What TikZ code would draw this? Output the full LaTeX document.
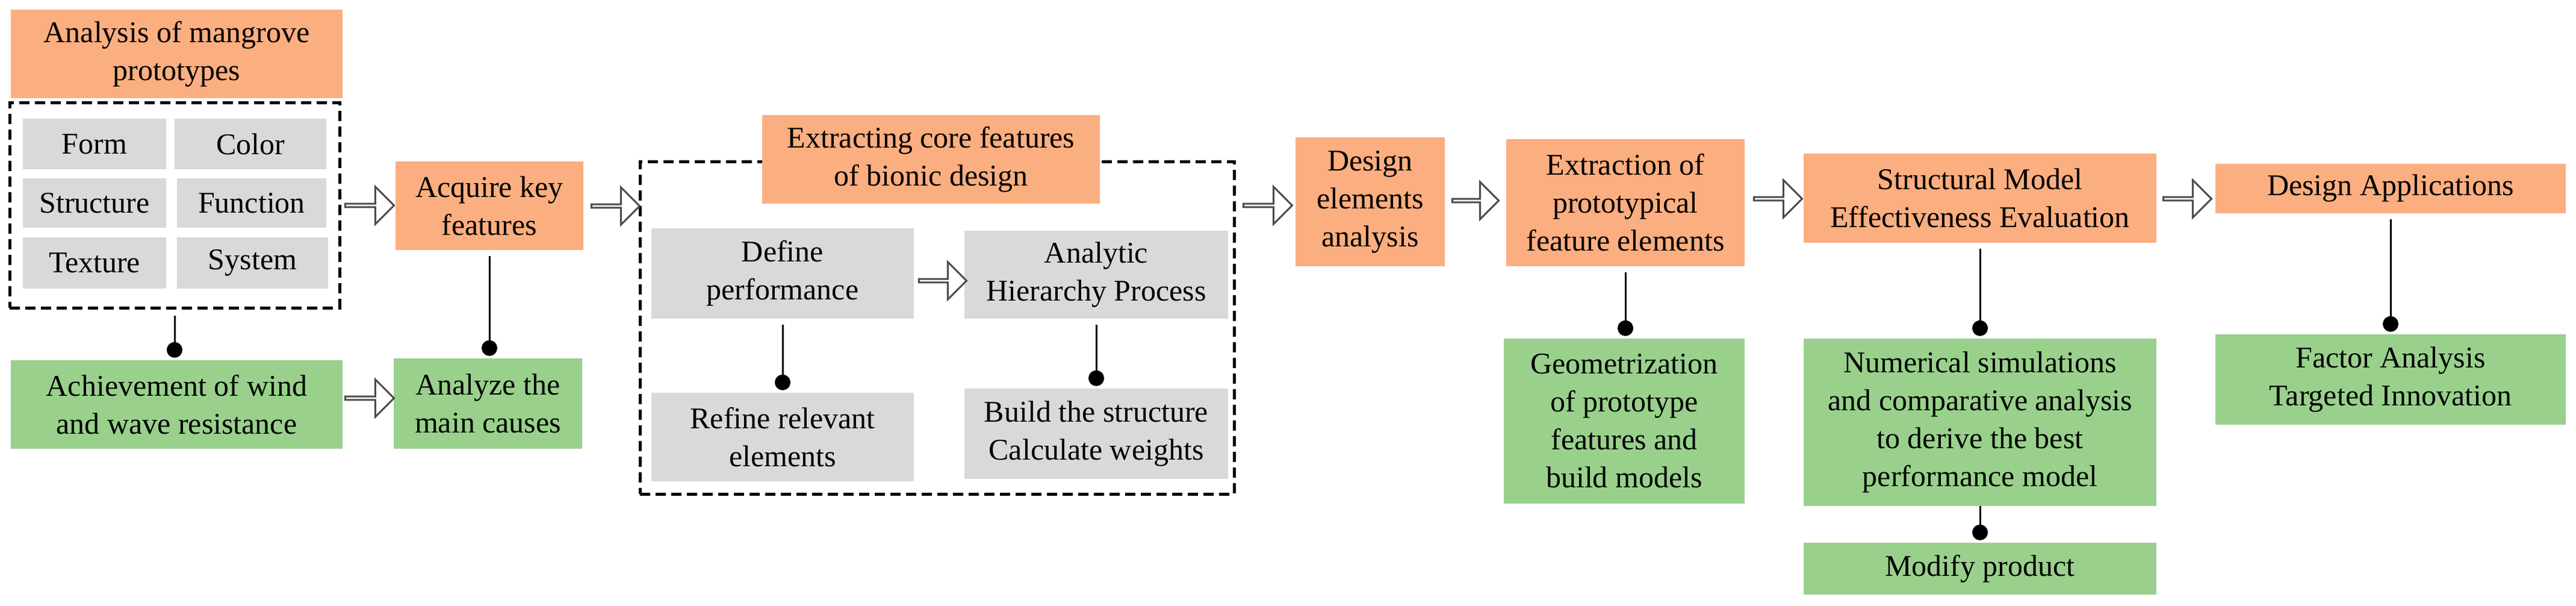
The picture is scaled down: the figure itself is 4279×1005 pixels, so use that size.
\documentclass[tikz,border=0pt]{standalone}
\usepackage{fontspec}
\setmainfont{Liberation Serif}
\usetikzlibrary{shapes.arrows,arrows.meta}
\definecolor{org}{HTML}{FBAE80}
\definecolor{grn}{HTML}{99D18C}
\definecolor{gry}{HTML}{D9D9D9}
\newcommand\bx[7]{\node[#2, minimum width={#5-#3}, minimum height={#6-#4}] (#1) at ({(#3+#5)/2},{-(#4+#6)/2}) {#7};}
\newcommand\har[4]{\node[harrow, minimum height={#3-#2}] (#1) at ({(#2+#3)/2},{-#4}) {};}
\begin{document}
\begin{tikzpicture}[x=1pt,y=1pt,
  every node/.style={font=\fontsize{50}{63}\selectfont, align=center, inner sep=0pt},
  ob/.style={fill=org},
  gb/.style={fill=grn},
  yb/.style={fill=gry},
  db/.style={draw=black, line width=5pt, dash pattern=on 17pt off 9pt},
  harrow/.style={single arrow, draw=black!70, line width=3pt, fill=white, minimum width=62pt, single arrow head extend=15pt, single arrow head indent=0pt},
  con/.style={line width=3pt, -{Circle[length=26pt,width=26pt]}, shorten <=10pt, shorten >=4pt}]
\useasboundingbox (0,0) rectangle (4279,-1005);
\bx{A1}{ob}{18}{16}{569}{163}{Analysis of mangrove\\prototypes}
\bx{D1}{db}{16}{170}{564}{511}{}
\bx{form}{yb}{38}{197}{276}{281}{Form}
\bx{color}{yb}{290}{197}{542}{281}{Color}
\bx{struct}{yb}{38}{296}{276}{378}{Structure}
\bx{func}{yb}{294}{296}{542}{378}{Function}
\bx{text}{yb}{38}{394}{276}{479}{Texture}
\bx{sys}{yb}{294}{394}{545}{479}{System}
\bx{ach}{gb}{18}{598}{569}{745}{Achievement of wind\\and wave resistance}
\bx{acq}{ob}{657}{268}{969}{415}{Acquire key\\features}
\bx{anz}{gb}{654}{595}{967}{745}{Analyze the\\main causes}
\bx{D2}{db}{1063}{268}{2050}{820}{}
\bx{ext}{ob}{1266}{191}{1827}{338}{Extracting core features\\of bionic design}
\bx{def}{yb}{1082}{379}{1518}{529}{Define\\performance}
\bx{ahp}{yb}{1602}{383}{2040}{529}{Analytic\\Hierarchy Process}
\bx{ref}{yb}{1082}{652}{1518}{799}{Refine relevant\\elements}
\bx{bld}{yb}{1602}{645}{2040}{795}{Build the structure\\Calculate weights}
\bx{dea}{ob}{2152}{228}{2400}{442}{Design\\elements\\analysis}
\bx{epf}{ob}{2502}{231}{2898}{442}{Extraction of\\prototypical\\feature elements}
\bx{geo}{gb}{2498}{562}{2898}{836}{Geometrization\\of prototype\\features and\\build models}
\bx{sme}{ob}{2996}{255}{3582}{403}{Structural Model\\Effectiveness Evaluation}
\bx{num}{gb}{2996}{562}{3582}{840}{Numerical simulations\\and comparative analysis\\to derive the best\\performance model}
\bx{mod}{gb}{2996}{901}{3582}{987}{Modify product}
\bx{da}{ob}{3680}{272}{4262}{354}{Design Applications}
\bx{fa}{gb}{3680}{555}{4262}{705}{Factor Analysis\\Targeted Innovation}
\har{a1}{572}{653}{341}
\har{a2}{572}{653}{661}
\har{a3}{981}{1061}{342}
\har{a4}{1525}{1604}{466}
\har{a5}{2064}{2145}{341}
\har{a6}{2411}{2488}{333}
\har{a7}{2912}{2992}{330}
\har{a8}{3592}{3672}{330}
\draw[con] (D1.south) -- (D1.south |- ach.north);
\draw[con] (acq.south) -- (acq.south |- anz.north);
\draw[con] (def.south) -- (def.south |- ref.north);
\draw[con] (ahp.south) -- (ahp.south |- bld.north);
\draw[con] (epf.south) -- (epf.south |- geo.north);
\draw[con] (sme.south) -- (sme.south |- num.north);
\draw[con, shorten <=0pt] (num.south) -- (num.south |- mod.north);
\draw[con] (da.south) -- (da.south |- fa.north);
\end{tikzpicture}
\end{document}
